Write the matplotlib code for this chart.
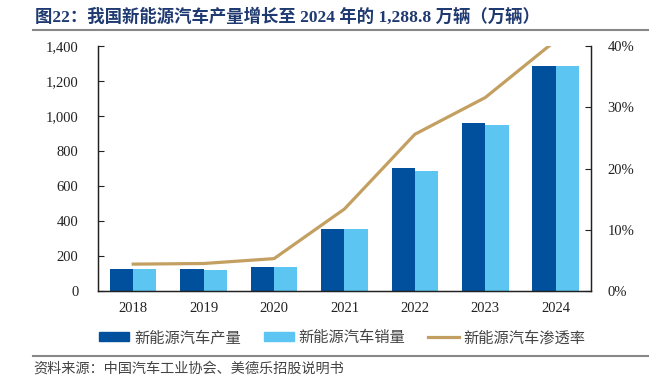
import matplotlib
matplotlib.use("Agg")
import matplotlib.pyplot as plt
import numpy as np
from matplotlib.lines import Line2D

plt.rcParams['font.family'] = ['Liberation Serif', 'Noto Sans CJK SC']

# Data
years = ["2018", "2019", "2020", "2021", "2022", "2023", "2024"]
production = [127.0, 124.2, 136.6, 354.5, 705.8, 958.7, 1288.8]
sales = [125.6, 120.6, 136.7, 352.1, 688.7, 949.5, 1286.6]
penetration = [0.044, 0.045, 0.053, 0.134, 0.256, 0.316, 0.409]

c_prod = "#00509D"
c_sales = "#5CC5F2"
c_line = "#C3A062"

fig = plt.figure(figsize=(6.58, 3.84), dpi=100)
ax = fig.add_axes([0.149, 0.242, 0.749, 0.638])

x = np.arange(len(years))
w = 0.33
ax.bar(x - w / 2, production, w, color=c_prod, label="新能源汽车产量")
ax.bar(x + w / 2, sales, w, color=c_sales, label="新能源汽车销量")
ax.set_xlim(-0.5, len(years) - 0.5)
ax.set_ylim(0, 1400)
ax.set_yticks(range(0, 1401, 200))
ax.set_yticklabels([f"{v:,}" for v in range(0, 1401, 200)])
ax.set_xticks(x)
ax.set_xticklabels(years)
ax.tick_params(axis='y', direction='in', length=4, labelsize=10.5, pad=14, colors="#222222")
ax.tick_params(axis='x', length=0, labelsize=10.5, pad=8, colors="#222222")
ax.spines['top'].set_visible(False)
for s in ['left', 'bottom', 'right']:
    ax.spines[s].set_color("#222222")
    ax.spines[s].set_linewidth(1.0)

ax2 = ax.twinx()
ax2.plot(x, penetration, color=c_line, lw=2.3, label="新能源汽车渗透率")
ax2.set_ylim(0, 0.4)
ax2.set_yticks([0, 0.1, 0.2, 0.3, 0.4])
ax2.set_yticklabels(["0%", "10%", "20%", "30%", "40%"])
ax2.tick_params(axis='y', direction='in', length=4, labelsize=10.5, pad=12, colors="#222222")
ax2.spines['top'].set_visible(False)
for s in ['left', 'bottom', 'right']:
    ax2.spines[s].set_color("#222222")

# Legend
handles = [
    plt.Rectangle((0, 0), 1, 1, color=c_prod),
    plt.Rectangle((0, 0), 1, 1, color=c_sales),
    Line2D([0], [0], color=c_line, lw=2.3),
]
labels = ["新能源汽车产量", "新能源汽车销量", "新能源汽车渗透率"]
fig.legend(handles, labels, loc='center', bbox_to_anchor=(0.52, 0.12), ncol=3,
           frameon=False, fontsize=11, handlelength=2.0, handleheight=0.5,
           handletextpad=0.3, columnspacing=1.5, labelcolor="#444444")

# Title and separators
fig.text(0.053, 1 - 17 / 384, "图22：我国新能源汽车产量增长至 2024 年的 1,288.8 万辆（万辆）",
         fontsize=12.5, fontweight='bold', color="#1F3A70", va='center', ha='left')
fig.add_artist(Line2D([0.05, 0.985], [1 - 30 / 384, 1 - 30 / 384], color="#888888", lw=1.5))
fig.add_artist(Line2D([0.05, 0.985], [1 - 356 / 384, 1 - 356 / 384], color="#888888", lw=1.5))
fig.text(0.05, 1 - 369 / 384, "资料来源：中国汽车工业协会、美德乐招股说明书",
         fontsize=10.2, color="#444444", va='center', ha='left')

fig.savefig("out.png", dpi=100)
